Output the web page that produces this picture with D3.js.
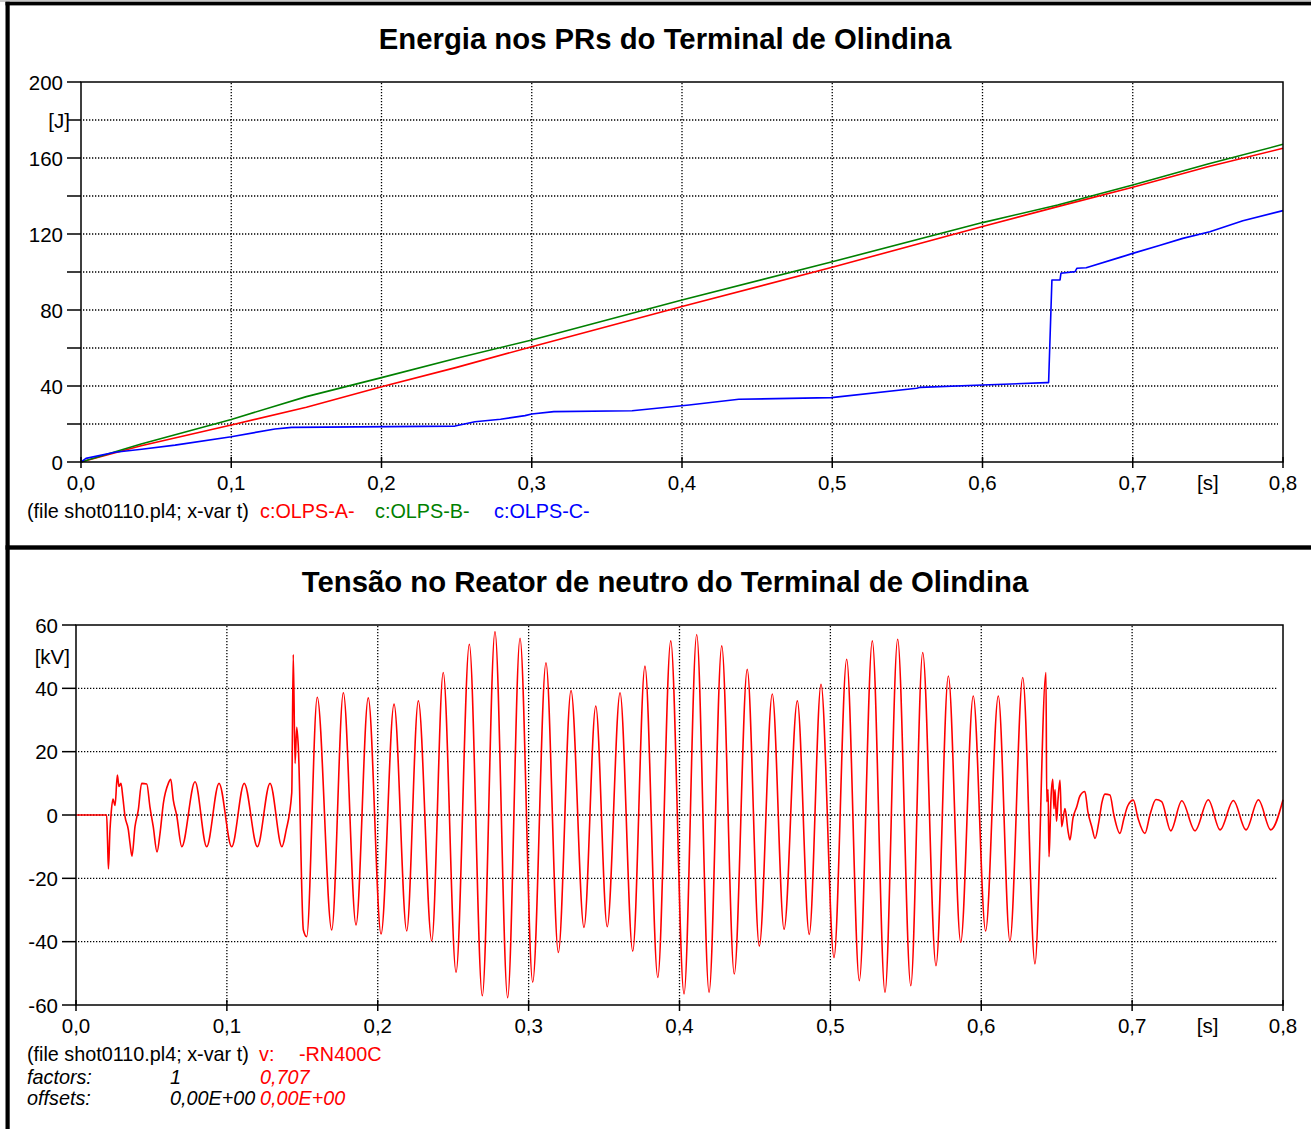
<!DOCTYPE html>
<html><head><meta charset="utf-8">
<script src="https://cdn.jsdelivr.net/npm/d3@7"></script>
<style>
body{margin:0;background:#fff}
svg{display:block}
text{font-family:"Liberation Sans",Arial,Helvetica,sans-serif}
</style>
</head><body>
<svg id="chart" width="1311" height="1129"></svg>
<script>
// ---------- Top chart data: energy in surge arresters [J] ----------
const topTitle = "Energia nos PRs do Terminal de Olindina";
const timeAB = [0, 0.04, 0.1, 0.15, 0.2, 0.25, 0.3, 0.4, 0.5, 0.6, 0.65, 0.7, 0.75, 0.8];
const energyA = [0, 8.6, 19.5, 28.8, 39.6, 49.8, 60.7, 81.8, 102.5, 124.0, 134.4, 144.6, 155.4, 165.1];
const energyB = [0, 9.5, 22.4, 34.4, 44.4, 54.6, 64.2, 85.3, 105.4, 126.0, 135.3, 145.8, 156.8, 167.2];
const timeC = [0, 0.0033, 0.0226, 0.0404, 0.0626, 0.1, 0.1291, 0.1402, 0.2489, 0.2622, 0.2792, 0.2955, 0.3, 0.3147, 0.3668, 0.4047, 0.4378, 0.4994, 0.5562, 0.5586, 0.6, 0.6426, 0.644, 0.6462, 0.6516, 0.6522, 0.6616, 0.6629, 0.669, 0.6915, 0.7, 0.7177, 0.7333, 0.7513, 0.7733, 0.8];
const energyC = [0, 1.9, 5.1, 6.7, 8.9, 13.3, 17.4, 18.2, 18.9, 21.2, 22.5, 24.4, 25.3, 26.5, 27.0, 30.0, 33.0, 33.9, 38.8, 39.3, 40.5, 41.8, 41.8, 95.8, 95.8, 99.3, 100.2, 102.0, 102.2, 107.7, 109.8, 113.9, 117.7, 121.2, 127.0, 132.3];
const topSeriesNames = ["c:OLPS-A-", "c:OLPS-B-", "c:OLPS-C-"];
const topYTicks = [0, 20, 40, 60, 80, 100, 120, 140, 160, 180, 200];
const topYLabels = [0, 40, 80, 120, 160, 200];
const topUnit = "[J]";

// ---------- Bottom chart data: neutral reactor voltage [kV] ----------
const bottomTitle = "Tensão no Reator de neutro do Terminal de Olindina";
const timeV = [0, 0.0203, 0.0209, 0.0215, 0.0225, 0.0232, 0.0245, 0.0259, 0.0274, 0.0285, 0.0298, 0.031, 0.0325, 0.0347, 0.0358, 0.0371, 0.0391, 0.0413, 0.0435, 0.0469, 0.049, 0.0512, 0.0537, 0.0557, 0.0579, 0.0612, 0.0628, 0.0645, 0.0667, 0.0701, 0.0789, 0.0866, 0.0948, 0.1032, 0.1115, 0.1202, 0.1286, 0.1365, 0.1392, 0.143, 0.144, 0.1452, 0.1463, 0.1473, 0.1507, 0.1529, 0.1599, 0.1695, 0.1772, 0.1856, 0.1937, 0.2022, 0.2108, 0.2192, 0.2269, 0.2358, 0.2434, 0.2519, 0.2607, 0.2693, 0.2777, 0.2861, 0.2943, 0.3027, 0.3115, 0.3197, 0.3281, 0.3367, 0.3445, 0.3521, 0.3606, 0.369, 0.3771, 0.3856, 0.3942, 0.403, 0.4114, 0.4196, 0.428, 0.4363, 0.4449, 0.4529, 0.4615, 0.4693, 0.4781, 0.486, 0.4938, 0.5024, 0.5108, 0.5192, 0.5278, 0.5362, 0.5446, 0.5533, 0.5612, 0.57, 0.5782, 0.5864, 0.5947, 0.6029, 0.6113, 0.619, 0.6275, 0.6356, 0.6429, 0.6434, 0.6443, 0.6449, 0.6456, 0.6462, 0.6474, 0.6482, 0.6489, 0.6499, 0.6509, 0.6522, 0.6533, 0.6555, 0.6575, 0.6588, 0.6608, 0.6633, 0.6654, 0.6687, 0.6707, 0.6734, 0.6754, 0.678, 0.68, 0.682, 0.6853, 0.6879, 0.6919, 0.6946, 0.6972, 0.7008, 0.7039, 0.7085, 0.7118, 0.7158, 0.7196, 0.7256, 0.7329, 0.7417, 0.7505, 0.7583, 0.7671, 0.7755, 0.7837, 0.7919, 0.8];
const voltV = [0, 0, -8, -17, -5, 0, 5, 3, 12.6, 9, 10, 5.8, -0.5, -4.7, -9, -13, -3.7, 1.6, 10, 9.8, 2.6, -3.7, -11.7, -5.8, 3.7, 10, 11.3, 4.7, 0, -10, 10.5, -10, 10, -10, 10, -10, 10, -10, -5, 7, 50.7, 16.3, 27.7, 22, -36.3, -38.4, 37.2, -36.3, 38.6, -34.7, 37, -37.6, 35, -36.6, 36.1, -39.8, 45, -49.7, 53.9, -57.1, 57.9, -57.7, 55.8, -52.8, 48.1, -43.4, 39.3, -35.5, 34.4, -35.3, 38.6, -43, 47, -51.3, 55, -56.5, 57, -56, 53.4, -50.2, 46, -41.4, 38.2, -36.1, 36.1, -37.7, 41.3, -45, 49.2, -52.3, 55, -56, 55.5, -53.9, 51.3, -47.6, 43.9, -40.2, 37.6, -36.6, 37.6, -39.8, 43.4, -47, 45, 4.2, 8, -13.2, -5, 5, 11.3, 2, 8, -2, 5, 11, -3.7, 2, -5, -7.9, -1, 2.6, 6, 7.4, 1, -4, -7.4, -2, 4, 6.6, 6.3, 0, -5.8, -1, 3, 4.7, -1, -5.8, 0, 4.9, 4.2, -5, 4.5, -5, 4.8, -4.7, 4.6, -4.7, 4.8, -4.7, 4.8];
const bottomYTicks = [-60, -40, -20, 0, 20, 40, 60];
const bottomUnit = "[kV]";
const xTicks = [0, 0.1, 0.2, 0.3, 0.4, 0.5, 0.6, 0.7, 0.8];
const xUnit = "[s]";
const fileLabel = "(file shot0110.pl4; x-var t)";

const colA = "#ff0000", colB = "#008000", colC = "#0000ff";

const loc = d3.formatLocale({decimal: ",", thousands: ".", grouping: [3], currency: ["", ""]});
const fx = loc.format(".1f");

const svg = d3.select("#chart");
const FONT_TICK = 20.5;

// panel frames
svg.append("rect").attr("x", 0).attr("y", 0).attr("width", 1311).attr("height", 2).attr("fill", "#c8c8c8");
svg.append("rect").attr("x", 5.5).attr("y", 1.8).attr("width", 1305.5).attr("height", 3.6).attr("fill", "#000");
svg.append("rect").attr("x", 5.5).attr("y", 1.8).attr("width", 4.2).attr("height", 1127.2).attr("fill", "#000");
svg.append("rect").attr("x", 5.5).attr("y", 545.3).attr("width", 1305.5).attr("height", 4.4).attr("fill", "#000");

function drawPanel(opt) {
  const g = svg.append("g");
  const x = d3.scaleLinear().domain([0, 0.8]).range([opt.left, opt.right]);
  const y = d3.scaleLinear().domain(opt.yDomain).range([opt.bottom, opt.top]);

  // title
  g.append("text").attr("x", 665).attr("y", opt.titleY).attr("text-anchor", "middle")
    .attr("font-size", 29.3).attr("font-weight", "bold").text(opt.title);

  // horizontal grid
  g.append("g").selectAll("line").data(opt.yGrid).join("line")
    .attr("x1", opt.left + 2).attr("x2", opt.right - 5)
    .attr("y1", d => y(d)).attr("y2", d => y(d))
    .attr("stroke", "#000").attr("stroke-width", 1.3).attr("stroke-dasharray", "1.3,1.7");
  // vertical grid
  g.append("g").selectAll("line").data(xTicks.filter(d => d > 0 && d < 0.8)).join("line")
    .attr("x1", d => x(d)).attr("x2", d => x(d))
    .attr("y1", opt.top + 1).attr("y2", opt.bottom - 1)
    .attr("stroke", "#000").attr("stroke-width", 1.3).attr("stroke-dasharray", "1.3,1.7");

  // data
  const clip = "clip" + opt.id;
  g.append("clipPath").attr("id", clip).append("rect")
    .attr("x", opt.left).attr("y", opt.top - 1).attr("width", opt.right - opt.left + 1).attr("height", opt.bottom - opt.top + 2);
  const dg = g.append("g").attr("clip-path", `url(#${clip})`);
  opt.series.forEach(s => {
    const pts = s.t.map((t, i) => [t, s.v[i]]);
    dg.append("path").datum(pts)
      .attr("d", d3.line().x(d => x(d[0])).y(d => y(d[1])).curve(s.curve || d3.curveLinear))
      .attr("fill", "none").attr("stroke", s.color).attr("stroke-width", 1.6).attr("stroke-linejoin", "round");
  });

  // plot box
  g.append("rect").attr("x", opt.left).attr("y", opt.top)
    .attr("width", opt.right - opt.left).attr("height", opt.bottom - opt.top)
    .attr("fill", "none").attr("stroke", "#000").attr("stroke-width", 1.5);

  // y ticks
  g.append("g").selectAll("line").data(opt.yTicks).join("line")
    .attr("x1", opt.left - 14).attr("x2", opt.left)
    .attr("y1", d => y(d)).attr("y2", d => y(d))
    .attr("stroke", "#000").attr("stroke-width", 1.5);
  g.append("g").selectAll("text").data(opt.yLabels).join("text")
    .attr("x", opt.left - 18).attr("y", d => y(d) + 7.5).attr("text-anchor", "end")
    .attr("font-size", FONT_TICK).text(d => d);
  g.append("text").attr("x", 70).attr("y", y(opt.unitVal) + 7.5).attr("text-anchor", "end")
    .attr("font-size", FONT_TICK).text(opt.unit);

  // x ticks (crossing axis)
  g.append("g").selectAll("line").data(xTicks).join("line")
    .attr("x1", d => x(d)).attr("x2", d => x(d))
    .attr("y1", opt.bottom - 5).attr("y2", opt.bottom + 6)
    .attr("stroke", "#000").attr("stroke-width", 1.5);
  g.append("g").selectAll("text").data(xTicks).join("text")
    .attr("x", d => x(d)).attr("y", opt.bottom + 28).attr("text-anchor", "middle")
    .attr("font-size", FONT_TICK).text(d => fx(d));
  g.append("text").attr("x", x(0.75)).attr("y", opt.bottom + 28).attr("text-anchor", "middle")
    .attr("font-size", FONT_TICK).text(xUnit);

  return {x, y, g};
}

// top panel
drawPanel({
  id: "top", title: topTitle, titleY: 48.5,
  left: 81, right: 1283, top: 82, bottom: 462,
  yDomain: [0, 200], yGrid: topYTicks.filter(d => d > 0 && d < 200),
  yTicks: topYTicks, yLabels: topYLabels, unit: topUnit, unitVal: 180,
  series: [
    {t: timeAB, v: energyA, color: colA},
    {t: timeAB, v: energyB, color: colB},
    {t: timeC, v: energyC, color: colC}
  ]
});

// bottom panel
drawPanel({
  id: "bot", title: bottomTitle, titleY: 591.5,
  left: 76, right: 1283, top: 625, bottom: 1005,
  yDomain: [-60, 60], yGrid: bottomYTicks.filter(d => d > -60 && d < 60),
  yTicks: bottomYTicks, yLabels: bottomYTicks, unit: bottomUnit, unitVal: 50,
  series: [
    {t: timeV, v: voltV, color: colA, curve: d3.curveMonotoneX}
  ]
});

// legends
const FL = 19.8;
svg.append("text").attr("x", 27).attr("y", 518).attr("font-size", FL).text(fileLabel);
const topLegX = [260, 375, 494];
[colA, colB, colC].forEach((c, i) => {
  svg.append("text").attr("x", topLegX[i]).attr("y", 518).attr("font-size", FL).attr("fill", c).text(topSeriesNames[i]);
});

svg.append("text").attr("x", 27).attr("y", 1061).attr("font-size", FL).text(fileLabel);
svg.append("text").attr("x", 259).attr("y", 1061).attr("font-size", FL).attr("fill", colA).text("v:");
svg.append("text").attr("x", 299).attr("y", 1061).attr("font-size", FL).attr("fill", colA).text("-RN400C");
const rows = [
  {label: "factors:", a: "1", b: "0,707", y: 1084},
  {label: "offsets:", a: "0,00E+00", b: "0,00E+00", y: 1105}
];
rows.forEach(r => {
  svg.append("text").attr("x", 27).attr("y", r.y).attr("font-size", FL).attr("font-style", "italic").text(r.label);
  svg.append("text").attr("x", 170).attr("y", r.y).attr("font-size", FL).attr("font-style", "italic").text(r.a);
  svg.append("text").attr("x", 260).attr("y", r.y).attr("font-size", FL).attr("font-style", "italic").attr("fill", colA).text(r.b);
});
</script>
</body></html>
